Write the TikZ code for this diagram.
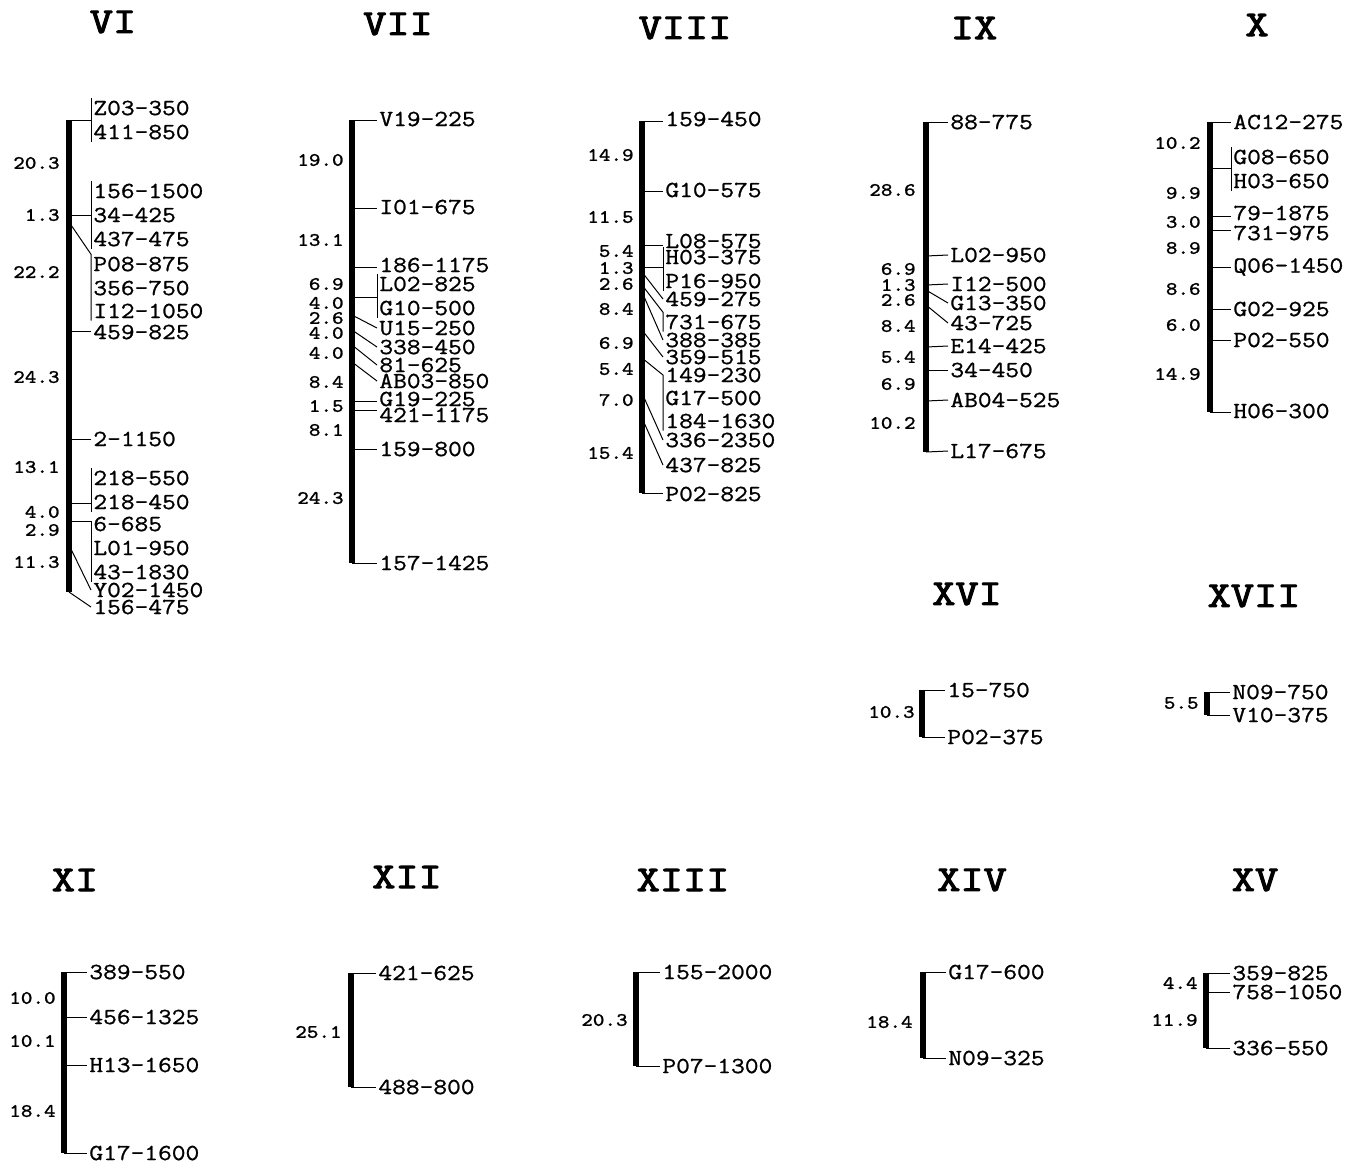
\documentclass[tikz,border=0pt]{standalone}
\usepackage{fontspec}
\newfontfamily\markfont[FakeStretch=1.16,FakeBold=1]{Latin Modern Mono}
\newfontfamily\titlefont[FakeStretch=1.25,FakeBold=3]{Latin Modern Mono}

\begin{document}
\begin{tikzpicture}[x=0.5pt,y=-0.5pt,
    bar/.style={line width=3.2pt},
    tick/.style={line width=0.5pt},
    mk/.style={anchor=west,inner sep=1pt,font=\markfont\fontsize{11.5}{12}\selectfont},
    dist/.style={anchor=east,inner sep=1pt,font=\markfont\fontsize{9.5}{10}\selectfont},
    chrom/.style={inner sep=1pt,font=\titlefont\fontsize{18}{20}\selectfont}]
    \useasboundingbox (0,0) rectangle (1360,1164);

    % linkage group titles
    \foreach \x/\y/\nm in {113/22/VI,398/24/VII,685/28/VIII,974/28/IX,1257/25/X,967/594/XVI,1254/596/XVII,75/880/XI,407/877/XII,683/880/XIII,972/880/XIV,1255/880/XV}
        \node[chrom] (t-\nm) at (\x,\y) {\nm};

    % VI
    \draw[bar] (69,120) -- (69,592);
    \foreach \y/\m [count=\i] in {108/Z03-350,132/411-850,191/156-1500,215/34-425,239/437-475,264/P08-875,288/356-750,311/I12-1050,332/459-825,439/2-1150,478/218-550,502/218-450,524/6-685,548/L01-950,572/43-1830,590/Y02-1450,607/156-475}
        \node[mk] (vi-\i) at (91,\y) {\m};
    \foreach \y [count=\i] in {120,215,222,331,439,503,521,545,592}
        \coordinate (vi-p\i) at (69,\y);
    \draw[tick] (vi-p1) -- (vi-p1 -| vi-1.west);
    \draw[tick] (vi-1.north west) -- (vi-2.south west);
    \draw[tick] (vi-p2) -- (vi-p2 -| vi-4.west);
    \draw[tick] (vi-3.north west) -- (vi-5.south west);
    \draw[tick] (vi-p3) -- (vi-6.north west) -- (vi-8.south west);
    \draw[tick] (vi-p4) -- (vi-p4 -| vi-9.west);
    \draw[tick] (vi-p5) -- (vi-p5 -| vi-10.west);
    \draw[tick] (vi-p6) -- (vi-p6 -| vi-12.west);
    \draw[tick] (vi-11.north west) -- (vi-12.south west);
    \draw[tick] (vi-p7) -- (vi-p7 -| vi-13.west) -- (vi-15.south west);
    \draw[tick] (vi-p8) -- (vi-16.west);
    \draw[tick] (vi-p9) -- (vi-17.west);
    \foreach \y/\d in {163/20.3,215/1.3,272/22.2,377/24.3,467/13.1,512/4.0,530/2.9,562/11.3}
        \node[dist] (vi-d\y) at (62,\y) {\d};

    % VII
    \draw[bar] (352,120) -- (352,563);
    \foreach \y/\m [count=\i] in {119/V19-225,207/I01-675,265/186-1175,284/L02-825,308/G10-500,328/U15-250,347/338-450,365/81-625,381/AB03-850,399/G19-225,415/421-1175,449/159-800,563/157-1425}
        \node[mk] (vii-\i) at (377,\y) {\m};
    \foreach \y [count=\i] in {120,208,267,297,315,330,345,362,401,410,449,563}
        \coordinate (vii-p\i) at (352,\y);
    \draw[tick] (vii-p1) -- (vii-p1 -| vii-1.west);
    \draw[tick] (vii-p2) -- (vii-p2 -| vii-2.west);
    \draw[tick] (vii-p3) -- (vii-p3 -| vii-3.west);
    \draw[tick] (vii-p4) -- (vii-p4 -| vii-4.west);
    \draw[tick] (vii-4.north west) -- (vii-5.south west);
    \draw[tick] (vii-p5) -- (vii-6.west);
    \draw[tick] (vii-p6) -- (vii-7.west);
    \draw[tick] (vii-p7) -- (vii-8.west);
    \draw[tick] (vii-p8) -- (vii-9.west);
    \draw[tick] (vii-p9) -- (vii-p9 -| vii-10.west);
    \draw[tick] (vii-p10) -- (vii-p10 -| vii-11.west);
    \draw[tick] (vii-p11) -- (vii-p11 -| vii-12.west);
    \draw[tick] (vii-p12) -- (vii-p12 -| vii-13.west);
    \foreach \y/\d in {160/19.0,240/13.1,284/6.9,303/4.0,318/2.6,333/4.0,353/4.0,382/8.4,406/1.5,430/8.1,498/24.3}
        \node[dist] (vii-d\y) at (346,\y) {\d};

    % VIII
    \draw[bar] (642,121) -- (642,493);
    \foreach \y/\m [count=\i] in {119/159-450,190/G10-575,241/L08-575,257/H03-375,281/P16-950,299/459-275,322/731-675,340/388-385,357/359-515,375/149-230,398/G17-500,421/184-1630,440/336-2350,465/437-825,494/P02-825}
        \node[mk] (viii-\i) at (663,\y) {\m};
    \foreach \y [count=\i] in {121,191,245,267,272,285,292,330,358,393,418,493}
        \coordinate (viii-p\i) at (642,\y);
    \draw[tick] (viii-p1) -- (viii-p1 -| viii-1.west);
    \draw[tick] (viii-p2) -- (viii-p2 -| viii-2.west);
    \draw[tick] (viii-p3) -- (viii-p3 -| viii-3.west);
    \draw[tick] (viii-p4) -- (viii-p4 -| viii-4.west);
    \draw[tick] (viii-4.north west) -- (viii-5.south west);
    \draw[tick] (viii-p5) -- (viii-6.west);
    \draw[tick] (viii-p6) -- (viii-7.north west) -- (viii-7.south west);
    \draw[tick] (viii-p7) -- (viii-8.west);
    \draw[tick] (viii-p8) -- (viii-9.west);
    \draw[tick] (viii-p9) -- (viii-10.west) -- (viii-12.south west);
    \draw[tick] (viii-p10) -- (viii-13.west);
    \draw[tick] (viii-p11) -- (viii-14.west);
    \draw[tick] (viii-p12) -- (viii-p12 -| viii-15.west);
    \foreach \y/\d in {155/14.9,217/11.5,251/5.4,268/1.3,284/2.6,309/8.4,343/6.9,369/5.4,400/7.0,453/15.4}
        \node[dist] (viii-d\y) at (636,\y) {\d};

    % IX
    \draw[bar] (926,122) -- (926,452);
    \foreach \yb/\y/\m [count=\i] in {122/122/88-775,256/255/L02-950,285/284/I12-500,290/303/G13-350,305/323/43-725,347/346/E14-425,370/370/34-450,401/400/AB04-525,452/451/L17-675}{
        \coordinate (ix-p\i) at (926,\yb);
        \node[mk] (ix-\i) at (948,\y) {\m};
        \draw[tick] (ix-p\i) -- (ix-\i.west);
    }
    \foreach \y/\d in {190/28.6,269/6.9,285/1.3,300/2.6,326/8.4,357/5.4,384/6.9,423/10.2}
        \node[dist] (ix-d\y) at (918,\y) {\d};

    % X
    \draw[bar] (1210,122) -- (1210,412);
    \foreach \yb/\y/\m [count=\i] in {122/122/AC12-275,216/213/79-1875,230/233/731-975,267/267/Q06-1450,309/309/G02-925,340/340/P02-550,412/411/H06-300}{
        \coordinate (x-p\i) at (1210,\yb);
        \node[mk] (x-\i) at (1231,\y) {\m};
        \draw[tick] (x-p\i) -- (x-p\i -| x-\i.west);
    }
    \node[mk] (x-g08) at (1231,157) {G08-650};
    \node[mk] (x-h03) at (1231,181) {H03-650};
    \coordinate (x-pg) at (1210,168);
    \draw[tick] (x-pg) -- (x-pg -| x-g08.west);
    \draw[tick] (x-g08.north west) -- (x-h03.south west);
    \foreach \y/\d in {143/10.2,193/9.9,222/3.0,248/8.9,289/8.6,325/6.0,374/14.9}
        \node[dist] (x-d\y) at (1203,\y) {\d};

    % XVI
    \draw[bar] (922,690) -- (922,737);
    \foreach \y/\m [count=\i] in {690/15-750,737/P02-375}{
        \coordinate (xvi-p\i) at (922,\y);
        \node[mk] (xvi-\i) at (945,\y) {\m};
        \draw[tick] (xvi-p\i) -- (xvi-\i.west);
    }
    \node[dist] (xvi-d) at (917,712) {10.3};

    % XVII
    \draw[bar] (1207,692) -- (1207,715);
    \foreach \y/\m [count=\i] in {692/N09-750,715/V10-375}{
        \coordinate (xvii-p\i) at (1207,\y);
        \node[mk] (xvii-\i) at (1230,\y) {\m};
        \draw[tick] (xvii-p\i) -- (xvii-\i.west);
    }
    \node[dist] (xvii-d) at (1201,703) {5.5};

    % XI
    \draw[bar] (64,972) -- (64,1153);
    \foreach \y/\m [count=\i] in {972/389-550,1017/456-1325,1065/H13-1650,1153/G17-1600}{
        \coordinate (xi-p\i) at (64,\y);
        \node[mk] (xi-\i) at (87,\y) {\m};
        \draw[tick] (xi-p\i) -- (xi-\i.west);
    }
    \foreach \y/\d in {998/10.0,1041/10.1,1111/18.4}
        \node[dist] (xi-d\y) at (58,\y) {\d};

    % XII
    \draw[bar] (351,973) -- (351,1087);
    \foreach \y/\m [count=\i] in {973/421-625,1087/488-800}{
        \coordinate (xii-p\i) at (351,\y);
        \node[mk] (xii-\i) at (376,\y) {\m};
        \draw[tick] (xii-p\i) -- (xii-\i.west);
    }
    \node[dist] (xii-d) at (344,1032) {25.1};

    % XIII
    \draw[bar] (636,972) -- (636,1066);
    \foreach \y/\m [count=\i] in {972/155-2000,1066/P07-1300}{
        \coordinate (xiii-p\i) at (636,\y);
        \node[mk] (xiii-\i) at (660,\y) {\m};
        \draw[tick] (xiii-p\i) -- (xiii-\i.west);
    }
    \node[dist] (xiii-d) at (630,1020) {20.3};

    % XIV
    \draw[bar] (923,972) -- (923,1058);
    \foreach \y/\m [count=\i] in {972/G17-600,1058/N09-325}{
        \coordinate (xiv-p\i) at (923,\y);
        \node[mk] (xiv-\i) at (946,\y) {\m};
        \draw[tick] (xiv-p\i) -- (xiv-\i.west);
    }
    \node[dist] (xiv-d) at (915,1022) {18.4};

    % XV
    \draw[bar] (1206,973) -- (1206,1048);
    \foreach \y/\m [count=\i] in {973/359-825,992/758-1050,1048/336-550}{
        \coordinate (xv-p\i) at (1206,\y);
        \node[mk] (xv-\i) at (1230,\y) {\m};
        \draw[tick] (xv-p\i) -- (xv-\i.west);
    }
    \foreach \y/\d in {983/4.4,1020/11.9}
        \node[dist] (xv-d\y) at (1200,\y) {\d};
\end{tikzpicture}
\end{document}
